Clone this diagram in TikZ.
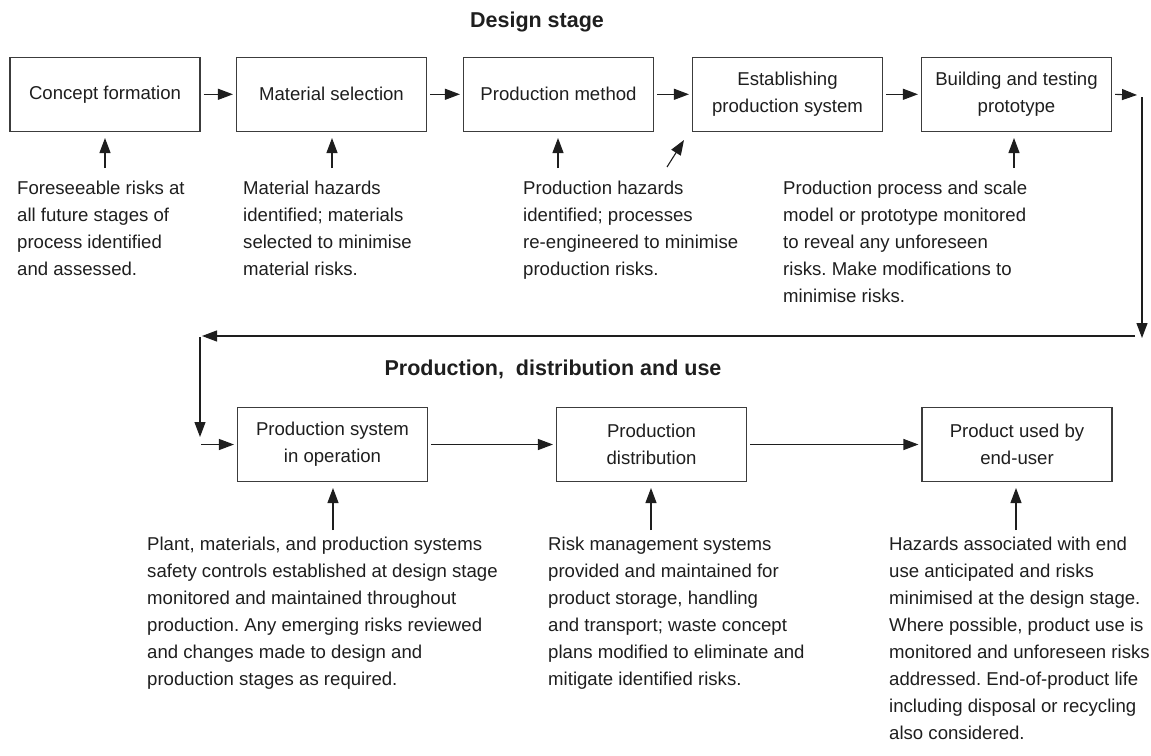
\documentclass[tikz,border=0pt]{standalone}
\usepackage{fontspec}
\setmainfont{Liberation Sans}
\usetikzlibrary{arrows.meta}
\definecolor{ink}{RGB}{30,30,30}
\definecolor{frame}{RGB}{60,60,60}
\frenchspacing
\begin{document}
\begin{tikzpicture}[x=1pt,y=-1pt,
  every node/.style={text=ink},
  stage/.style={draw=frame,line width=1.1pt,minimum width=190pt,minimum height=73.5pt,
    align=center,inner sep=0pt,font=\fontsize{18.6}{27}\selectfont},
  note/.style={anchor=north west,align=left,inner sep=0pt,font=\fontsize{18.6}{27}\selectfont},
  heading/.style={font=\fontsize{21.5}{24}\selectfont\bfseries,inner sep=0pt},
  flow/.style={draw=ink,line width=1.1pt,-{Triangle[length=15pt,width=11pt]}}]
\useasboundingbox (0,0) rectangle (1151,755);

% headings
\node[heading] (h1) at (537,22) {Design stage};
\node[heading] (h2) at (553,369) {Production,\ \ distribution and use};

% design stage boxes
\node[stage] (c1) at (105,94.3) {Concept formation};
\node[stage] (c2) at (331.5,94.3) {Material selection};
\node[stage] (c3) at (558.5,94.3) {Production method};
\node[stage] (c4) at (787.5,94.3) {Establishing\\production system};
\node[stage] (c5) at (1016.5,94.3) {Building and testing\\prototype};

% production boxes
\node[stage] (p1) at (332.5,444.5) {Production system\\in operation};
\node[stage] (p2) at (651.5,444.5) {Production\\distribution};
\node[stage] (p3) at (1017,444.5) {Product used by\\end-user};

% arrows along the design stage
\draw[flow,shorten <=3pt,shorten >=3pt] (c1.east) -- (c2.west);
\draw[flow,shorten <=3pt,shorten >=3pt] (c2.east) -- (c3.west);
\draw[flow,shorten <=3pt,shorten >=3pt] (c3.east) -- (c4.west);
\draw[flow,shorten <=3pt,shorten >=3pt] (c4.east) -- (c5.west);
\coordinate (r0) at (1137,95);
\draw[flow,shorten <=3pt] (c5.east) -- (r0);

% return path to the production row
\coordinate (v0) at (1142,97);
\coordinate (v1) at (1142,338);
\draw[flow] (v0) -- (v1);
\coordinate (w0) at (1135,336);
\coordinate (w1) at (202,336);
\draw[flow] (w0) -- (w1);
\coordinate (d0) at (200,337);
\coordinate (d1) at (200,437);
\draw[flow] (d0) -- (d1);
\coordinate (e0) at (201,444.5);
\draw[flow,shorten >=3pt] (e0) -- (p1.west);

% arrows along the production row
\draw[flow,shorten <=3pt,shorten >=3pt] (p1.east) -- (p2.west);
\draw[flow,shorten <=3pt,shorten >=3pt] (p2.east) -- (p3.west);

% design stage notes
\node[note] (n1) at (17,180.5) {Foreseeable risks at\\all future stages of\\process identified\\and assessed.};
\node[note] (n2) at (243,180.5) {Material hazards\\identified; materials\\selected to minimise\\material risks.};
\node[note] (n3) at (523,180.5) {Production hazards\\identified; processes\\re-engineered to minimise\\production risks.};
\node[note] (n4) at (783,180.5) {Production process and scale\\model or prototype monitored\\to reveal any unforeseen\\risks. Make modifications to\\minimise risks.};

\coordinate (u1) at (105,168);
\coordinate (u2) at (332,168);
\coordinate (u3) at (558,168);
\coordinate (u4) at (667,167);
\coordinate (u4t) at (684,140);
\coordinate (u5) at (1014,168);
\draw[flow] (u1) -- ++(0,-30);
\draw[flow] (u2) -- ++(0,-30);
\draw[flow] (u3) -- ++(0,-30);
\draw[flow] (u4) -- (u4t);
\draw[flow] (u5) -- ++(0,-30);

% production notes
\node[note] (m1) at (147,536.5) {Plant, materials, and production systems\\safety controls established at design stage\\monitored and maintained throughout\\production. Any emerging risks reviewed\\and changes made to design and\\production stages as required.};
\node[note] (m2) at (548,536.5) {Risk management systems\\provided and maintained for\\product storage, handling\\and transport; waste concept\\plans modified to eliminate and\\mitigate identified risks.};
\node[note] (m3) at (889,536.5) {Hazards associated with end\\use anticipated and risks\\minimised at the design stage.\\Where possible, product use is\\monitored and unforeseen risks\\addressed. End-of-product life\\including disposal or recycling\\also considered.};

\coordinate (q1) at (333,530);
\coordinate (q2) at (651,530);
\coordinate (q3) at (1016,530);
\draw[flow] (q1) -- ++(0,-42);
\draw[flow] (q2) -- ++(0,-42);
\draw[flow] (q3) -- ++(0,-42);
\end{tikzpicture}
\end{document}
